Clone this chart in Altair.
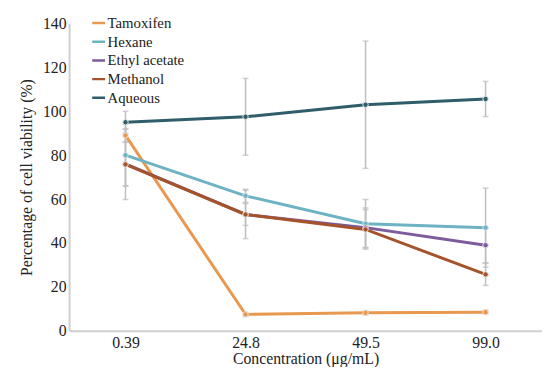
import altair as alt
import pandas as pd

concentrations = ["0.39", "24.8", "49.5", "99.0"]
series = ["Tamoxifen", "Hexane", "Ethyl acetate", "Methanol", "Aqueous"]
colors = ["#E9984F", "#6DB3C4", "#7D5B9C", "#A5532B", "#2F5D69"]

tamoxifen = [89, 7.5, 8.2, 8.5]
hexane = [80, 61.5, 48.8, 47]
ethyl_acetate = [76, 53, 47, 39]
methanol = [75.8, 53, 46.2, 25.7]
aqueous = [95, 97.5, 103, 105.6]

tamoxifen_err = [3, 1, 1, 1]
hexane_err = [14, 3, 11, 18]
ethyl_acetate_err = [10, 5, 9, 8]
methanol_err = [16, 11, 9, 5]
aqueous_err = [5, 17.5, 29, 8]

values = [tamoxifen, hexane, ethyl_acetate, methanol, aqueous]
errors = [tamoxifen_err, hexane_err, ethyl_acetate_err, methanol_err, aqueous_err]

rows = []
for s, vals, errs in zip(series, values, errors):
    for c, v, e in zip(concentrations, vals, errs):
        rows.append({"conc": c, "series": s, "value": v, "lo": v - e, "hi": v + e})
df = pd.DataFrame(rows)

FONT = "serif"

x_enc = alt.X("conc:N", sort=concentrations,
              scale=alt.Scale(type="point", padding=0.47),
              axis=alt.Axis(title="Concentration (μg/mL)", labelAngle=0, ticks=False,
                            labelPadding=4, titlePadding=0, domainColor="#cfcfcf",
                            domainWidth=2))
y_scale = alt.Scale(domain=[0, 140])
color_enc = alt.Color("series:N", sort=series,
                      scale=alt.Scale(domain=series, range=colors),
                      legend=alt.Legend(title=None, orient="none", legendX=22, legendY=-8,
                                        symbolType="stroke", symbolStrokeWidth=2.5,
                                        symbolSize=170, labelFontSize=15, rowPadding=3,
                                        clipHeight=15,
                                        labelFont=FONT, labelColor="#222222",
                                        labelOffset=1))

base = alt.Chart(df)

err_rule = base.mark_rule(color="#bdbdbd", strokeWidth=1.5).encode(
    x=x_enc, y=alt.Y("lo:Q", scale=y_scale), y2="hi:Q")
cap_lo = base.mark_tick(color="#bdbdbd", thickness=1.5, size=6, orient="horizontal").encode(
    x=x_enc, y=alt.Y("lo:Q", scale=y_scale))
cap_hi = base.mark_tick(color="#bdbdbd", thickness=1.5, size=6, orient="horizontal").encode(
    x=x_enc, y=alt.Y("hi:Q", scale=y_scale))

lines = base.mark_line(strokeWidth=3).encode(
    x=x_enc,
    y=alt.Y("value:Q", scale=y_scale,
            axis=alt.Axis(title="Percentage of cell viability (%)", values=list(range(0, 141, 20)),
                          ticks=False, labelPadding=3, titlePadding=8, domainColor="#cfcfcf",
                          domainWidth=2, grid=False)),
    color=color_enc,
    order=alt.Order("series:N"))
points = base.mark_point(filled=True, size=30, opacity=1).encode(
    x=x_enc, y=alt.Y("value:Q", scale=y_scale),
    color=alt.Color("series:N", sort=series, scale=alt.Scale(domain=series, range=colors), legend=None),
    stroke=alt.value("#e6e6e6"), strokeWidth=alt.value(1))

chart = alt.layer(err_rule, cap_lo, cap_hi, lines, points).properties(
    width=480, height=312,
    autosize=alt.AutoSizeParams(type="none"),
    padding={"left": 62, "top": 13, "right": 0, "bottom": 34},
).configure(font=FONT).configure_view(stroke=None).configure_axis(
    labelFont=FONT, titleFont=FONT, labelFontSize=16, titleFontSize=16,
    labelColor="#222222", titleColor="#222222", titleFontWeight="normal", grid=False
).configure_legend(labelFont=FONT, labelFontSize=15)

chart.save("out.html", embed_options={"renderer": "svg", "actions": False})
